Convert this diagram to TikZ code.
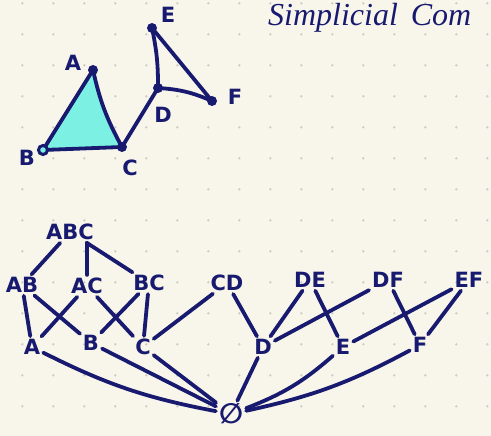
\documentclass[tikz,border=0pt]{standalone}
\usepackage{fontspec}
\setmainfont{DejaVu Sans}
\newfontfamily\titlefont{Liberation Serif}
\definecolor{ink}{RGB}{24,26,112}
\definecolor{paper}{RGB}{248,246,235}
\definecolor{gridgray}{RGB}{205,205,198}
\definecolor{facecyan}{RGB}{125,240,228}
\begin{document}
\begin{tikzpicture}[x=1pt,y=-1pt,
	lbl/.style={text=ink, font=\bfseries\fontsize{21}{21}\selectfont, inner sep=2pt},
	pen/.style={draw=ink, line width=3.8pt, line cap=round, line join=round},
	edge/.style={pen, shorten >=1pt, shorten <=1pt}]
	
	% Papel
	\useasboundingbox (0,0) rectangle (491,436);
	\fill[paper] (0,0) rectangle (491,436);
	\foreach \i in {0,...,15}
		\foreach \j in {0,...,14}
			\fill[gridgray] (22.3+31*\i,3.3+31*\j) circle (1.3pt);
	
	% Titulo
	\node[anchor=base west, text=ink, inner sep=0pt,
		font=\titlefont\itshape\fontsize{32}{32}\selectfont] (title) at (268,26)
		{Simplicial\hspace{0.4em}Com};
	
	% Complejo simplicial
	\coordinate (pA) at (93,70);
	\coordinate (pB) at (43,150);
	\coordinate (pC) at (122,147);
	\coordinate (pD) at (158,88);
	\coordinate (pE) at (152,28);
	\coordinate (pF) at (212,101);
	\filldraw[pen, fill=facecyan] (pA) -- (pB) -- (pC) to[bend left=8] cycle;
	\draw[pen] (pC) -- (pD);
	\draw[pen] (pD) to[bend right=6] (pE);
	\draw[pen] (pE) -- (pF);
	\draw[pen] (pD) to[bend left=10] (pF);
	\foreach \p in {pA,pC,pD,pE,pF}
		\fill[ink] (\p) circle (5pt);
	\draw[ink, line width=3pt, fill=facecyan] (pB) circle (4.5pt);
	
	% Etiquetas
	\node[lbl] (tA) at (73,63) {A};
	\node[lbl] (tB) at (27,158) {B};
	\node[lbl] (tC) at (130,168) {C};
	\node[lbl] (tD) at (163,115) {D};
	\node[lbl] (tE) at (168,15) {E};
	\node[lbl] (tF) at (235,97) {F};
	
	% Diagrama de Hasse
	\node[lbl] (ABC) at (70,232) {ABC};
	\node[lbl] (AB) at (22,285) {AB};
	\node[lbl] (AC) at (87,286) {AC};
	\node[lbl] (BC) at (149,283) {BC};
	\node[lbl] (CD) at (227,283) {CD};
	\node[lbl] (DE) at (310,280) {DE};
	\node[lbl] (DF) at (388,280) {DF};
	\node[lbl] (EF) at (469,280) {EF};
	\node[lbl] (A) at (32,347) {A};
	\node[lbl] (B) at (91,343) {B};
	\node[lbl] (C) at (143,347) {C};
	\node[lbl] (D) at (263,347) {D};
	\node[lbl] (E) at (343,347) {E};
	\node[lbl] (F) at (420,345) {F};
	\node[lbl, font=\bfseries\fontsize{28}{28}\selectfont] (empty) at (231,414) {∅};
	
	\draw[edge] (ABC) -- (AB);
	\draw[edge] (ABC.south -| AC.north) -- (AC.north);
	\draw[edge] (ABC) -- (BC);
	\foreach \u/\v in {AB/A,AB/B,AC/A,AC/C,BC/B,BC/C,CD/C,CD/D,
		DE/D,DE/E,DF/D,DF/F,EF/E,EF/F}
		\draw[edge] (\u) -- (\v);
	
	\draw[edge] (A) to[bend right=8] (empty);
	\foreach \u in {B,C,D}
		\draw[edge] (\u) -- (empty);
	\draw[edge] (E) to[bend left=10] (empty);
	\draw[edge] (F) to[bend left=8] (empty);
	
\end{tikzpicture}
\end{document}
